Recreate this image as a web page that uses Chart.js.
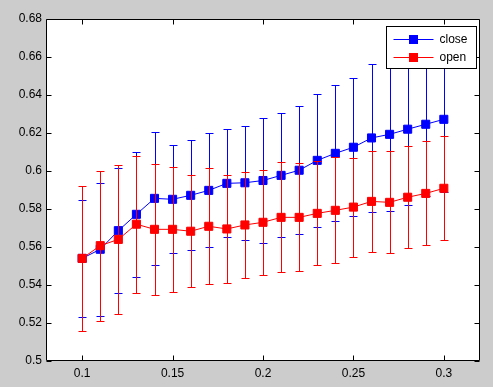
<!DOCTYPE html>
<html>
<head>
<meta charset="utf-8">
<script src="https://cdn.jsdelivr.net/npm/chart.js@4/dist/chart.umd.min.js"></script>
<style>
  html, body { margin: 0; padding: 0; background: #cccccc; }
  canvas { display: block; }
</style>
</head>
<body>
<canvas id="c" width="493" height="387"></canvas>
<script>
const xVals = [0.10, 0.11, 0.12, 0.13, 0.14, 0.15, 0.16, 0.17, 0.18, 0.19, 0.20,
               0.21, 0.22, 0.23, 0.24, 0.25, 0.26, 0.27, 0.28, 0.29, 0.30];
const closeVals = [0.554, 0.5588, 0.5686, 0.5772, 0.5856, 0.5851, 0.5872, 0.5898, 0.5935, 0.5938, 0.5950,
                   0.5977, 0.6004, 0.6056, 0.6093, 0.6125, 0.6174, 0.6193, 0.6220, 0.6246, 0.6272];
const closeErr = [0.0307, 0.035, 0.033, 0.033, 0.035, 0.0284, 0.029, 0.030, 0.0285, 0.030, 0.033,
                  0.0327, 0.0336, 0.035, 0.0358, 0.0363, 0.039, 0.0405, 0.040, 0.038, 0.038];
const openVals = [0.554, 0.5607, 0.564, 0.572, 0.5693, 0.5693, 0.5683, 0.5709, 0.5695, 0.5716, 0.5730,
                  0.5756, 0.5756, 0.5777, 0.5793, 0.5810, 0.5840, 0.5835, 0.5862, 0.5882, 0.5909];
const openErr = [0.038, 0.0395, 0.039, 0.036, 0.0345, 0.033, 0.0295, 0.0305, 0.0285, 0.028, 0.0277,
                 0.029, 0.0284, 0.0274, 0.0279, 0.026, 0.0265, 0.0268, 0.0268, 0.0274, 0.0274];
const xTicks = [0.1, 0.15, 0.2, 0.25, 0.3];
const xTickLabels = ['0.1', '0.15', '0.2', '0.25', '0.3'];
const yTicks = [0.5, 0.52, 0.54, 0.56, 0.58, 0.6, 0.62, 0.64, 0.66, 0.68];
const yTickLabels = ['0.5', '0.52', '0.54', '0.56', '0.58', '0.6', '0.62', '0.64', '0.66', '0.68'];
const seriesNames = ['close', 'open'];

const FONT = '"Liberation Sans", Arial, sans-serif';

// vertical error bars, drawn just under each dataset's own markers
const errorBars = {
    id: 'errorBars',
    beforeDatasetDraw(chart, args) {
        const ds = chart.data.datasets[args.index];
        const xs = chart.scales.x, ys = chart.scales.y;
        const ctx = chart.ctx;
        ctx.save();
        ctx.strokeStyle = ds.borderColor;
        ctx.lineWidth = 1;
        ds.data.forEach((p, i) => {
            const e = ds.errors[i];
            const px = Math.round(xs.getPixelForValue(p.x)) + 0.5;
            const top = Math.round(ys.getPixelForValue(p.y + e)) + 0.5;
            const bot = Math.round(ys.getPixelForValue(p.y - e)) + 0.5;
            ctx.beginPath();
            ctx.moveTo(px, top); ctx.lineTo(px, bot);
            ctx.moveTo(px - 4, top); ctx.lineTo(px + 4, top);
            ctx.moveTo(px - 4, bot); ctx.lineTo(px + 4, bot);
            ctx.stroke();
        });
        ctx.restore();
    }
};

// white axes box, inward ticks and the legend box
const frame = {
    id: 'frame',
    beforeDraw(chart) {
        const a = chart.chartArea, ctx = chart.ctx;
        ctx.save();
        ctx.fillStyle = '#ffffff';
        ctx.fillRect(a.left, a.top, a.right - a.left, a.bottom - a.top);
        ctx.restore();
    },
    afterDraw(chart) {
        const a = chart.chartArea, ctx = chart.ctx;
        const xs = chart.scales.x, ys = chart.scales.y;
        const L = Math.round(a.left) + 0.5, R = Math.round(a.right) - 0.5;
        const T = Math.round(a.top) + 0.5, B = Math.round(a.bottom) - 0.5;
        ctx.save();
        ctx.strokeStyle = '#000000';
        ctx.lineWidth = 1;
        ctx.beginPath();
        ctx.rect(L, T, R - L, B - T);
        xTicks.forEach(v => {
            const px = Math.round(xs.getPixelForValue(v)) + 0.5;
            ctx.moveTo(px, B); ctx.lineTo(px, B - 5);
            ctx.moveTo(px, T); ctx.lineTo(px, T + 5);
        });
        yTicks.forEach(v => {
            const py = Math.round(ys.getPixelForValue(v)) + 0.5;
            ctx.moveTo(L, py); ctx.lineTo(L + 5, py);
            ctx.moveTo(R, py); ctx.lineTo(R - 5, py);
        });
        ctx.stroke();

        // legend
        const bx = Math.round(a.right) - 94 + 0.5, by = Math.round(a.top) + 7 + 0.5;
        const bw = 90, bh = 42;
        ctx.fillStyle = '#ffffff';
        ctx.fillRect(bx, by, bw, bh);
        ctx.strokeRect(bx, by, bw, bh);
        ctx.font = '12px ' + FONT;
        ctx.textBaseline = 'middle';
        chart.data.datasets.forEach((ds, i) => {
            const ry = Math.round(by + 12 + i * 18.5) + 0.5;
            ctx.strokeStyle = ds.borderColor;
            ctx.beginPath();
            ctx.moveTo(bx + 7, ry); ctx.lineTo(bx + 47, ry);
            ctx.stroke();
            ctx.fillStyle = ds.borderColor;
            ctx.fillRect(bx + 27 - 4.5, ry - 4.5, 9, 9);
            ctx.fillStyle = '#000000';
            ctx.fillText(ds.label, bx + 53, ry);
        });
        ctx.restore();
    }
};

function makeSet(name, vals, errs, color, order) {
    return {
        label: name,
        data: xVals.map((x, i) => ({ x: x, y: vals[i] })),
        errors: errs,
        borderColor: color,
        backgroundColor: color,
        borderWidth: 1,
        showLine: true,
        pointStyle: 'rect',
        pointRadius: 5.7,
        pointBorderWidth: 1,
        pointHoverRadius: 5.7,
        order: order,
        clip: false
    };
}

new Chart(document.getElementById('c'), {
    type: 'scatter',
    data: {
        datasets: [
            makeSet(seriesNames[0], closeVals, closeErr, '#0000ff', 2),
            makeSet(seriesNames[1], openVals, openErr, '#ff0000', 1)
        ]
    },
    options: {
        responsive: false,
        animation: false,
        events: [],
        layout: { padding: { top: 19, right: 13, left: 0, bottom: 0 } },
        plugins: { legend: { display: false }, tooltip: { enabled: false } },
        scales: {
            x: {
                type: 'linear', min: 0.08, max: 0.32,
                grid: { display: false, drawTicks: false },
                border: { display: false },
                afterBuildTicks: s => { s.ticks = xTicks.map(v => ({ value: v })); },
                afterFit: s => { s.height = 26; },
                ticks: {
                    color: '#000000', padding: 5, maxRotation: 0, autoSkip: false,
                    font: { family: FONT, size: 12 },
                    callback: (v, i) => xTickLabels[i]
                }
            },
            y: {
                type: 'linear', min: 0.5, max: 0.68,
                grid: { display: false, drawTicks: false },
                border: { display: false },
                afterBuildTicks: s => { s.ticks = yTicks.map(v => ({ value: v })); },
                afterFit: s => { s.width = 46; },
                ticks: {
                    color: '#000000', padding: 4, autoSkip: false,
                    font: { family: FONT, size: 12 },
                    callback: (v, i) => yTickLabels[i]
                }
            }
        }
    },
    plugins: [frame, errorBars]
});
</script>
</body>
</html>
